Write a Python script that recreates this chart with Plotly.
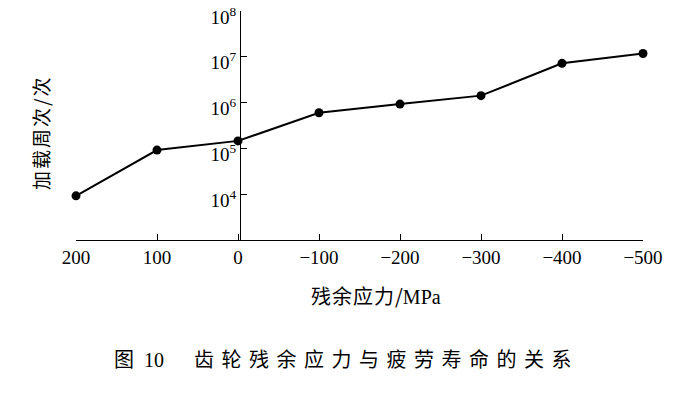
import plotly.graph_objects as go

# data
stress = [200, 100, 0, -100, -200, -300, -400, -500]          # residual stress, MPa
cycles = [9.2e3, 9.2e4, 1.46e5, 6.0e5, 9.3e5, 1.42e6, 7.2e6, 1.18e7]  # loading cycles
x_ticks = [200, 100, 0, -100, -200, -300, -400, -500]
x_ticktext = ["200", "100", "0", "\u2212100", "\u2212200", "\u2212300", "\u2212400", "\u2212500"]
y_ticks = [1e4, 1e5, 1e6, 1e7, 1e8]
y_ticktext = ["10<sup>4</sup>", "10<sup>5</sup>", "10<sup>6</sup>", "10<sup>7</sup>", "10<sup>8</sup>"]

W, H = 673, 393
L, R, T, B = 76, 30, 11, 153
pw, ph = W - L - R, H - T - B

def px(x):
    return (x - L) / pw

def py(y):
    return (H - B - y) / ph

serif = "Liberation Serif, Times New Roman, serif"
cjk = "Noto Sans CJK SC"

fig = go.Figure()
fig.add_trace(go.Scatter(
    x=stress, y=cycles, mode="lines+markers",
    line=dict(color="black", width=2),
    marker=dict(color="black", size=9),
    showlegend=False, cliponaxis=False, hoverinfo="skip",
))

fig.update_layout(
    width=W, height=H,
    margin=dict(l=L, r=R, t=T, b=B, pad=0, autoexpand=False),
    paper_bgcolor="white", plot_bgcolor="white",
    xaxis=dict(
        range=[200, -500], tickvals=x_ticks, ticktext=x_ticktext,
        ticks="inside", ticklen=6, tickwidth=1.3, tickcolor="black",
        showline=True, linecolor="black", linewidth=1.3,
        showgrid=False, zeroline=False,
        tickfont=dict(family=serif, size=19, color="black"),
        ticklabeloverflow="allow", automargin=False,
        anchor="y",
    ),
    yaxis=dict(
        type="log", range=[3, 8.0005], tickvals=y_ticks, ticktext=y_ticktext,
        ticks="inside", ticklen=6, tickwidth=1.3, tickcolor="black",
        showline=True, linecolor="black", linewidth=1.3,
        showgrid=False, zeroline=False,
        tickfont=dict(family=serif, size=19, color="black"),
        ticklabelshift=6, ticklabeloverflow="allow", automargin=False,
        anchor="free", position=px(240), side="left",
    ),
)

fig.add_annotation(
    text="<span style='letter-spacing:2px'>加载周次/次</span>", xref="paper", yref="paper",
    x=px(40), y=py(133), showarrow=False, textangle=-90,
    font=dict(family=cjk, size=19, color="black"),
    xanchor="center", yanchor="middle",
)
fig.add_annotation(
    text="<span style='letter-spacing:1px'>残余应力</span>/<span style='font-family:Liberation Serif'>MPa</span>",
    xref="paper", yref="paper",
    x=px(376), y=py(295), showarrow=False,
    font=dict(family=cjk, size=20, color="black"),
    xanchor="center", yanchor="middle",
)
fig.add_annotation(
    text="图\u2002<span style='font-family:Liberation Serif'>10</span>\u3000\u2002<span style='letter-spacing:7.5px'>齿轮残余应力与疲劳寿命的关系</span>",
    xref="paper", yref="paper",
    x=px(346), y=py(358), showarrow=False,
    font=dict(family=cjk, size=20, color="black"),
    xanchor="center", yanchor="middle",
)

fig.write_html("out.html", config={"displayModeBar": False},
               post_script="document.body.style.margin='0';")
